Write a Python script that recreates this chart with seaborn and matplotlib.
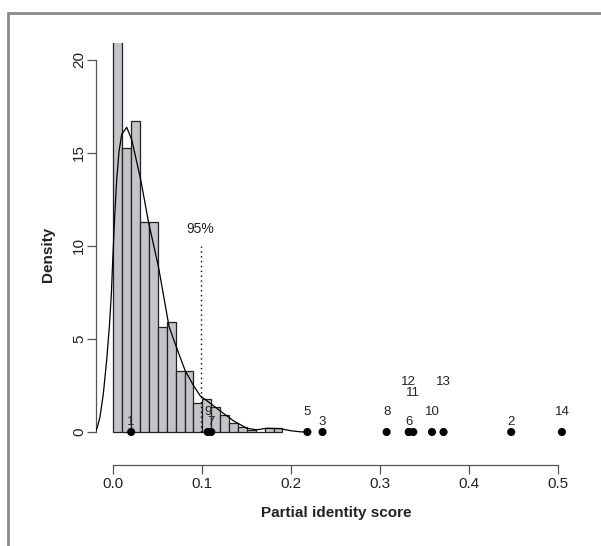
import numpy as np
import pandas as pd
import matplotlib
matplotlib.use("Agg")
import matplotlib.pyplot as plt
from matplotlib.lines import Line2D
import seaborn as sns

# histogram (density per bin of width 0.01)
bin_lefts = [0.00, 0.01, 0.02, 0.03, 0.04, 0.05, 0.06, 0.07, 0.08, 0.09,
             0.10, 0.11, 0.12, 0.13, 0.14, 0.15, 0.16, 0.17, 0.18]
bin_heights = [25.0, 15.25, 16.74, 11.3, 11.3, 5.66, 5.9, 3.3, 3.3, 1.56,
               1.76, 1.36, 0.9, 0.46, 0.26, 0.1, 0.0, 0.22, 0.22]
bin_width = 0.01

# density curve
kde_x = [-0.0205, -0.018, -0.015, -0.0112, -0.0075, -0.0045, -0.0022, -0.0007,
         0.0015, 0.0038, 0.0064, 0.0094, 0.015, 0.0207, 0.0308, 0.0394, 0.0506,
         0.0626, 0.0713, 0.0807, 0.0900, 0.0975, 0.109, 0.1237, 0.135, 0.1425,
         0.150, 0.161, 0.1725, 0.1875, 0.199, 0.21, 0.215]
kde_y = [0.0, 0.25, 0.82, 2.08, 3.87, 5.66, 7.46, 9.25,
         11.6, 13.6, 15.1, 16.0, 16.38, 15.7, 13.55, 11.3, 8.9,
         5.66, 4.5, 3.3, 2.5, 1.95, 1.54, 1.0, 0.6, 0.4,
         0.2, 0.12, 0.2, 0.18, 0.07, 0.01, 0.0]

# observed scores
point_ids = ["1", "9", "7", "5", "3", "8", "6", "12", "11", "10", "13", "2", "14"]
point_x = [0.020, 0.106, 0.110, 0.218, 0.235, 0.307, 0.332, 0.332, 0.337,
           0.358, 0.371, 0.447, 0.504]
label_y = [0.55, 1.07, 0.55, 1.07, 0.55, 1.07, 0.55, 2.68, 2.08, 1.07, 2.68, 0.55, 1.07]

cutoff = 0.098
cutoff_top = 10.0

sns.set_style("ticks")
plt.rcParams['font.family'] = ['Liberation Sans', 'DejaVu Sans']

fig = plt.figure(figsize=(6.01, 5.46), dpi=100)
ax = fig.add_axes([96 / 601, 81 / 546, 480 / 601, 422 / 546])

hist_df = pd.DataFrame({"x": [b + bin_width / 2 for b in bin_lefts], "w": bin_heights})
edges = list(bin_lefts) + [bin_lefts[-1] + bin_width]
sns.histplot(data=hist_df, x="x", weights="w", bins=edges, stat="count",
             color="#c4c4c8", edgecolor="#222222", linewidth=0.9, alpha=1,
             ax=ax, zorder=1)

sns.lineplot(x=kde_x, y=kde_y, color="black", linewidth=0.9, ax=ax,
             sort=False, zorder=3)

ax.plot([cutoff, cutoff], [0, cutoff_top], linestyle=(0, (1, 2.5)),
        color="black", linewidth=1.0, zorder=4)
ax.text(cutoff, cutoff_top + 0.55, "95%", ha="center", va="bottom",
        fontsize=10, color="#222222")

pts = pd.DataFrame({"x": point_x, "y": [0.0] * len(point_x)})
sns.scatterplot(data=pts, x="x", y="y", color="black", s=34, edgecolor="none",
                ax=ax, zorder=5, clip_on=False)
for pid, px, py in zip(point_ids, point_x, label_y):
    ax.text(px, py, pid, ha="center", va="center", fontsize=9.5, color="#222222")

ax.set_xlim(-0.0195, 0.5198)
ax.set_ylim(-1.774, 20.91)
ax.set_xticks([0.0, 0.1, 0.2, 0.3, 0.4, 0.5])
ax.set_xticklabels(["0.0", "0.1", "0.2", "0.3", "0.4", "0.5"])
ax.set_yticks([0, 5, 10, 15, 20])
ax.set_yticklabels(["0", "5", "10", "15", "20"], rotation=90, va="center")

for side in ["top", "right"]:
    ax.spines[side].set_visible(False)
ax.spines["left"].set_bounds(0, 20)
ax.spines["bottom"].set_bounds(0, 0.5)
for side in ["left", "bottom"]:
    ax.spines[side].set_color("#555555")
    ax.spines[side].set_linewidth(0.9)

ax.tick_params(axis="both", direction="out", length=6.5, width=0.9,
               color="#555555", labelsize=11, labelcolor="#222222")
ax.tick_params(axis="y", pad=0.5)
ax.tick_params(axis="x", pad=2.5)

ax.set_xlabel("Partial identity score", fontsize=11, fontweight="bold",
              color="#222222")
ax.set_ylabel("Density", fontsize=11, fontweight="bold", color="#222222")
ax.xaxis.set_label_coords(0.5, -0.097)
ax.yaxis.set_label_coords(-0.085, 0.5)

# grey frame lines along top and left of the figure
fig.add_artist(Line2D([8 / 601, 1.0], [1 - 13 / 546, 1 - 13 / 546],
                      transform=fig.transFigure, color="#8a8a8a", linewidth=2))
fig.add_artist(Line2D([8 / 601, 8 / 601], [0.0, 1 - 13 / 546],
                      transform=fig.transFigure, color="#8a8a8a", linewidth=2))

fig.savefig("out.png", dpi=100)
